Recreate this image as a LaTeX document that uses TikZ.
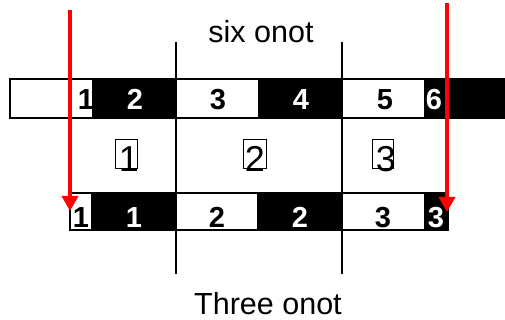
\documentclass[tikz,border=0pt]{standalone}
\usepackage{fontspec}
\setmainfont{Liberation Sans}
\usetikzlibrary{arrows.meta}
\begin{document}
\begin{tikzpicture}[x=1pt,y=-1pt,
  wcell/.style={draw=black,fill=white,line width=1.5pt,inner sep=0pt,outer sep=0pt,anchor=north west},
  bcell/.style={draw=black,fill=black,line width=1.5pt,inner sep=0pt,outer sep=0pt,anchor=north west},
  digb/.style={font=\fontsize{29}{29}\selectfont\bfseries,text=black,inner sep=0pt,anchor=base},
  digw/.style={digb,text=white},
  mbox/.style={draw=black,line width=1.2pt,inner sep=0pt,anchor=north west},
  mdig/.style={font=\fontsize{36}{36}\selectfont,inner sep=0pt,anchor=base},
  title/.style={font=\fontsize{30.5}{30.5}\selectfont,inner sep=0pt,anchor=base},
  sep/.style={draw=black,line width=1.5pt},
  redarrow/.style={draw=red,line width=3.5pt,-{Triangle[width=16pt,length=15pt]}}]
\useasboundingbox[fill=white] (0,0) rectangle (505,320);
% separators
\coordinate (s1a) at (176,42); \coordinate (s1b) at (176,274);
\coordinate (s2a) at (342,42); \coordinate (s2b) at (342,274);
\draw[sep] (s1a) -- (s1b);
\draw[sep] (s2a) -- (s2b);
% top strip
\node[wcell,minimum width=83pt,minimum height=39pt] (t0) at (10,79) {};
\node[bcell,minimum width=83pt,minimum height=39pt] (t1) at (93,79) {};
\node[wcell,minimum width=83pt,minimum height=39pt] (t2) at (176,79) {};
\node[bcell,minimum width=83pt,minimum height=39pt] (t3) at (259,79) {};
\node[wcell,minimum width=83pt,minimum height=39pt] (t4) at (342,79) {};
\node[bcell,minimum width=90pt,minimum height=39pt] (t5) at (425,79) {};
\node[digb] (lt1) at (86,110) {1};
\node[digw] (lt2) at (135,110) {2};
\node[digb] (lt3) at (218,110) {3};
\node[digw] (lt4) at (301,110) {4};
\node[digb] (lt5) at (385,110) {5};
\node[digw] (lt6) at (434,110) {6};
% bottom strip
\node[wcell,minimum width=22pt,minimum height=37pt] (b0) at (70,193) {};
\node[bcell,minimum width=84pt,minimum height=37pt] (b1) at (92,193) {};
\node[wcell,minimum width=82pt,minimum height=37pt] (b2) at (176,193) {};
\node[bcell,minimum width=84pt,minimum height=37pt] (b3) at (258,193) {};
\node[wcell,minimum width=83pt,minimum height=37pt] (b4) at (342,193) {};
\node[bcell,minimum width=23pt,minimum height=37pt] (b5) at (425,193) {};
\node[digb] (lb1) at (81,227) {1};
\node[digw] (lb2) at (134,227) {1};
\node[digb] (lb3) at (217,227) {2};
\node[digw] (lb4) at (300,227) {2};
\node[digb] (lb5) at (383,227) {3};
\node[digw] (lb6) at (436,227) {3};
% middle boxed numbers
\node[mbox,minimum width=22pt,minimum height=29pt] (m1) at (115,139) {};
\node[mbox,minimum width=23pt,minimum height=29pt] (m2) at (243,139) {};
\node[mbox,minimum width=21pt,minimum height=29pt] (m3) at (372,139) {};
\node[mdig] (d1) at (129,172) {1};
\node[mdig] (d2) at (255,172) {2};
\node[mdig] (d3) at (386,172) {3};
% titles
\node[title] (top) at (261,43) {six onot};
\node[title] (bot) at (268,314) {Three onot};
% red arrows
\coordinate (la) at (70,10); \coordinate (lb) at (70,211);
\coordinate (ra) at (447,3); \coordinate (rb) at (447,212);
\draw[redarrow] (la) -- (lb);
\draw[redarrow] (ra) -- (rb);
\end{tikzpicture}
\end{document}
